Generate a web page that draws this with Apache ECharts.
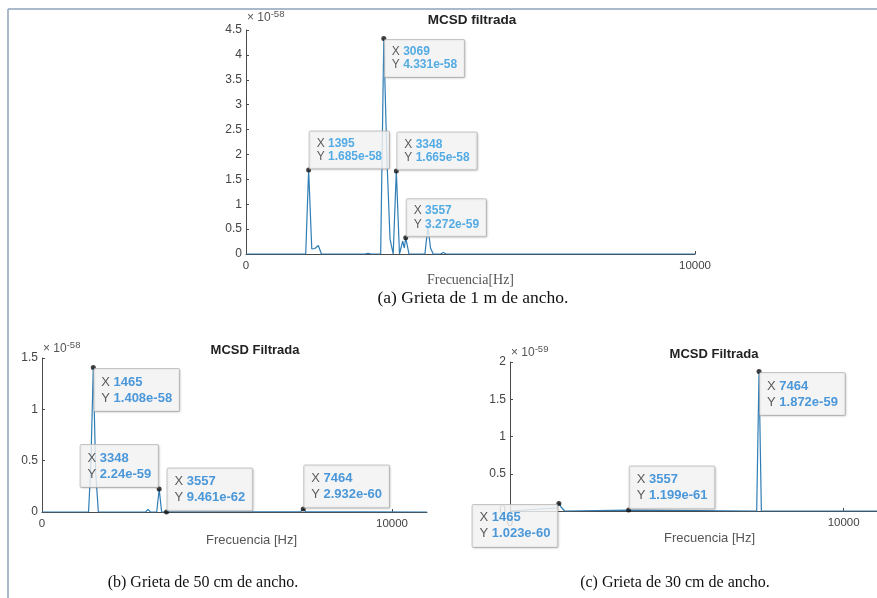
<!DOCTYPE html>
<html>
<head>
<meta charset="utf-8">
<script src="https://cdn.jsdelivr.net/npm/echarts@6/dist/echarts.min.js"></script>
<style>
html,body{margin:0;padding:0;background:#fff;}
#c{width:877px;height:598px;}
</style>
</head>
<body>
<div id="c"></div>
<script>
// ---------- DATA ----------
// (a) Grieta de 1 m: frequency [Hz] and PSD (x 1e-58)
const freqA = [0, 1250, 1330, 1395, 1465, 1535, 1611, 1680, 2650, 2717, 2790, 2999, 3069, 3139, 3208, 3278, 3348, 3418, 3490, 3526, 3557, 3630, 3985, 4050, 4110, 4170, 4330, 4395, 4460, 10000];
const psdA  = [0, 0, 0, 1.685, 0.10, 0.11, 0.17, 0, 0, 0.012, 0, 0, 4.331, 1.9, 0.3, 0, 1.665, 0, 0.26, 0.12, 0.3272, 0, 0, 0.55, 0.12, 0, 0, 0.03, 0, 0];
// (b) Grieta de 50 cm (x 1e-58)
const freqB = [0, 1330, 1395, 1465, 1535, 1610, 2960, 3030, 3100, 3278, 3348, 3418, 3557, 7394, 7464, 7534, 11000];
const psdB  = [0, 0, 0.45, 1.408, 0.38, 0, 0, 0.025, 0, 0, 0.224, 0, 0.000946, 0.004, 0.02932, 0.004, 0];
// (c) Grieta de 30 cm (x 1e-59)
const freqC = [0, 1395, 1465, 1535, 1640, 3557, 7394, 7464, 7534, 11000];
const psdC  = [0, 0.04, 0.1023, 0.05, 0, 0.01199, 0, 1.872, 0, 0];

// Data tips (actual values)
const tipXA = [3069, 1395, 3348, 3557];
const tipYA = [4.331e-58, 1.685e-58, 1.665e-58, 3.272e-59];
const tipXB = [1465, 3348, 3557, 7464];
const tipYB = [1.408e-58, 2.24e-59, 9.461e-62, 2.932e-60];
const tipXC = [7464, 3557, 1465];
const tipYC = [1.872e-59, 1.199e-61, 1.023e-60];

const scaleA = 1e-58, scaleB = 1e-58, scaleC = 1e-59;
const yTicksA = [0, 4.5, 0.5], yTicksB = [0, 1.5, 0.5], yTicksC = [0, 2, 0.5];
const xLabelsA = [0, 10000], xLabelsB = [0, 10000], xLabelsC = [0, 10000];

const titles = ['MCSD filtrada', 'MCSD Filtrada', 'MCSD Filtrada'];
const xNames = ['Frecuencia[Hz]', 'Frecuencia [Hz]', 'Frecuencia [Hz]'];
const captions = ['(a) Grieta de 1 m de ancho.', '(b) Grieta de 50 cm de ancho.', '(c) Grieta de 30 cm de ancho.'];

// ---------- LAYOUT / STYLE (not data) ----------
const tipCornerA = ['tl', 'bl', 'bl', 'bl'];
const tipCornerB = ['tl', 'br', 'bl', 'bl'];
const tipCornerC = ['tl', 'bl', 'tr'];

const SANS = '"Liberation Sans", Arial, Helvetica, sans-serif';
const SERIF = '"Liberation Serif", "Times New Roman", serif';
const LINE = '#2f7db5';
const AX = '#4a4a4a';

const mctx = document.createElement('canvas').getContext('2d');
function textW(s, fs, bold) {
  mctx.font = (bold ? 'bold ' : '') + fs + 'px ' + SANS;
  return mctx.measureText(s).width;
}

function fmtTip(v) {
  let s = v.toPrecision(4);
  let [m, e] = s.split('e');
  if (m.indexOf('.') >= 0) m = m.replace(/0+$/, '').replace(/\.$/, '');
  const ev = parseInt(e, 10);
  return m + 'e' + (ev < 0 ? '-' : '+') + String(Math.abs(ev)).padStart(2, '0');
}

function cornerLabel(c, boxW) {
  const s = 2.5;
  if (c === 'tl') return { position: [s + 1, s + 1.5], align: 'left', verticalAlign: 'top' };
  if (c === 'bl') return { position: [s + 1, s - 1.5], align: 'left', verticalAlign: 'bottom' };
  if (c === 'br') return { position: [s - 1 - boxW, s - 2], align: 'left', verticalAlign: 'bottom' };
  return { position: [s - 1.5 - boxW, s + 1.5], align: 'left', verticalAlign: 'top' };
}

function tipSeries(idx, xs, ys, scale, corners, fs, lh, pad, blue) {
  return {
    type: 'scatter', xAxisIndex: idx, yAxisIndex: idx, z: 10, zlevel: 1,
    symbolSize: 5, itemStyle: { color: '#111' },
    data: xs.map((x, i) => {
      const l1 = textW('X ', fs, false) + textW(String(x), fs, true);
      const l2 = textW('Y ', fs, false) + textW(fmtTip(ys[i]), fs, true);
      const boxW = Math.max(l1, l2) + pad[1] + pad[3];
      return {
        value: [x, ys[i] / scale],
        tx: x, ty: ys[i],
        label: cornerLabel(corners[i], boxW)
      };
    }),
    label: {
      show: true,
      formatter: p => '{k|X }{v|' + p.data.tx + '}\n{k|Y }{v|' + fmtTip(p.data.ty) + '}',
      backgroundColor: '#f8f8f8',
      borderColor: '#b8b8b8', borderWidth: 1, borderRadius: 1,
      padding: pad,
      shadowColor: 'rgba(0,0,0,0.12)', shadowBlur: 2, shadowOffsetX: 1, shadowOffsetY: 1,
      rich: {
        k: { fontFamily: SANS, fontSize: fs, color: '#333', lineHeight: lh },
        v: { fontFamily: SANS, fontSize: fs, fontWeight: 'bold', color: blue, lineHeight: lh }
      }
    },
    emphasis: { disabled: true }
  };
}

function yAxisCfg(idx, t, exp, fs) {
  return {
    gridIndex: idx, type: 'value', min: t[0], max: t[1], interval: t[2],
    axisLine: { show: true, lineStyle: { color: AX, width: 1 } },
    axisTick: { show: true, inside: true, length: 3, lineStyle: { color: AX } },
    splitLine: { show: false },
    axisLabel: { color: '#444', fontFamily: SANS, fontSize: fs, margin: 4 },
    name: '{a|\u00d7 10}{b|' + exp + '}',
    nameLocation: 'end', nameGap: 1,
    nameTextStyle: {
      align: 'left', verticalAlign: 'bottom', padding: [0, 0, 0, 1],
      rich: {
        a: { fontFamily: SANS, fontSize: fs, color: '#555' },
        b: { fontFamily: SANS, fontSize: fs - 2.5, color: '#555', verticalAlign: 'top', padding: [0, 0, 7, 0] }
      }
    }
  };
}

function xAxisCfg(idx, max, labels, name, nameFont, nameFs, nameGap, nameShift, fs) {
  return {
    gridIndex: idx, type: 'value', min: 0, max: max,
    axisLine: { show: true, lineStyle: { color: AX, width: 1 } },
    axisTick: { show: true, inside: true, length: 3, lineStyle: { color: AX }, customValues: labels },
    splitLine: { show: false },
    axisLabel: { color: '#444', fontFamily: SANS, fontSize: fs, margin: 6, customValues: labels, formatter: v => String(v) },
    name: name, nameLocation: 'middle', nameGap: nameGap,
    nameTextStyle: { fontFamily: nameFont, fontSize: nameFs, color: '#555', padding: [0, 0, 0, nameShift] }
  };
}

function lineSeries(idx, xs, ys) {
  return {
    type: 'line', xAxisIndex: idx, yAxisIndex: idx, z: 3,
    showSymbol: false, symbol: 'none', animation: false,
    lineStyle: { color: LINE, width: 1.2 },
    data: xs.map((x, i) => [x, ys[i]]),
    emphasis: { disabled: true }
  };
}

const chart = echarts.init(document.getElementById('c'), null, { renderer: 'canvas' });
chart.setOption({
  animation: false,
  backgroundColor: '#ffffff',
  grid: [
    { left: 246, top: 30, width: 449, height: 224 },
    { left: 42, top: 358, width: 385, height: 154 },
    { left: 510, top: 362, width: 370, height: 149 }
  ],
  title: [
    { text: titles[0], left: 467, top: 8, textAlign: 'center', textStyle: { fontFamily: SANS, fontSize: 13.5, fontWeight: 'bold', color: '#222' } },
    { text: titles[1], left: 250, top: 339, textAlign: 'center', textStyle: { fontFamily: SANS, fontSize: 13, fontWeight: 'bold', color: '#222' } },
    { text: titles[2], left: 709, top: 343, textAlign: 'center', textStyle: { fontFamily: SANS, fontSize: 13, fontWeight: 'bold', color: '#222' } },
    { text: captions[0], left: 468, top: 284, textAlign: 'center', textStyle: { fontFamily: SERIF, fontSize: 17.5, fontWeight: 'normal', color: '#111' } },
    { text: captions[1], left: 198, top: 570, textAlign: 'center', textStyle: { fontFamily: SERIF, fontSize: 16, fontWeight: 'normal', color: '#111' } },
    { text: captions[2], left: 670, top: 570, textAlign: 'center', textStyle: { fontFamily: SERIF, fontSize: 16, fontWeight: 'normal', color: '#111' } }
  ],
  xAxis: [
    xAxisCfg(0, 10000, xLabelsA, xNames[0], SERIF, 14, 19, 0, 11.5),
    xAxisCfg(1, 11000, xLabelsB, xNames[1], SANS, 13, 22, 34, 11.5),
    xAxisCfg(2, 11000, xLabelsC, xNames[2], SANS, 13, 21, 32, 11.5)
  ],
  yAxis: [
    yAxisCfg(0, yTicksA, '-58', 12),
    yAxisCfg(1, yTicksB, '-58', 12),
    yAxisCfg(2, yTicksC, '-59', 12)
  ],
  series: [
    lineSeries(0, freqA, psdA),
    lineSeries(1, freqB, psdB),
    lineSeries(2, freqC, psdC),
    tipSeries(0, tipXA, tipYA, scaleA, tipCornerA, 12, 13.5, [5, 7, 5, 7], '#2a98e0'),
    tipSeries(1, tipXB, tipYB, scaleB, tipCornerB, 13, 16, [5, 7, 5, 7], '#1f80d2'),
    tipSeries(2, tipXC, tipYC, scaleC, tipCornerC, 13, 16, [5, 7, 5, 7], '#1f80d2')
  ],
  graphic: [
    { type: 'line', z: 0, silent: true, shape: { x1: 8, y1: 9, x2: 877, y2: 9 }, style: { stroke: '#8ea3b8', lineWidth: 1.5 } },
    { type: 'line', z: 0, silent: true, shape: { x1: 8, y1: 9, x2: 8, y2: 598 }, style: { stroke: '#8ea3b8', lineWidth: 1.5 } }
  ]
});
</script>
</body>
</html>
